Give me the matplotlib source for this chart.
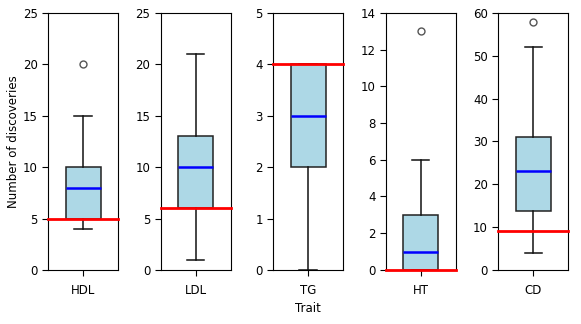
import matplotlib
matplotlib.use("Agg")
import matplotlib.pyplot as plt

traits = ["HDL", "LDL", "TG", "HT", "CD"]
q1 = [5, 6, 2, 0, 13.7]
medians = [8, 10, 3, 1, 23]
q3 = [10, 13, 4, 3, 31]
whislo = [4, 1, 0, 0, 4]
whishi = [15, 21, 4, 6, 52]
fliers = [[20], [], [], [13], [58]]
thresholds = [5, 6, 4, 0, 9]
ymax = [25, 25, 5, 14, 60]

plt.rcParams['font.size'] = 8.5
plt.rcParams['xtick.major.size'] = 4
plt.rcParams['ytick.major.size'] = 4
plt.rcParams['xtick.major.pad'] = 6

fig, axes = plt.subplots(1, 5, figsize=(5.81, 3.24), dpi=100)
fig.subplots_adjust(left=0.083, right=0.978, top=0.96, bottom=0.167, wspace=0.61)

for i, ax in enumerate(axes):
	stats = [{'label': traits[i], 'q1': q1[i], 'med': medians[i], 'q3': q3[i],
		'whislo': whislo[i], 'whishi': whishi[i], 'fliers': fliers[i]}]
	ax.bxp(stats, patch_artist=True, widths=0.5,
		boxprops=dict(facecolor='lightblue', edgecolor='#222222', linewidth=1.1),
		whiskerprops=dict(color='#111111', linewidth=1.1),
		capprops=dict(color='#111111', linewidth=1.1),
		medianprops=dict(color='blue', linewidth=1.8),
		flierprops=dict(marker='o', markerfacecolor='none', markeredgecolor='#555555', markersize=5))
	ax.axhline(thresholds[i], color='red', linewidth=2, zorder=5, clip_on=False)
	ax.set_ylim(0, ymax[i])
	ax.set_xlim(0.5, 1.5)

axes[0].set_ylabel('Number of discoveries', labelpad=2)
axes[2].set_xlabel('Trait', labelpad=4)

plt.savefig('out.png')
